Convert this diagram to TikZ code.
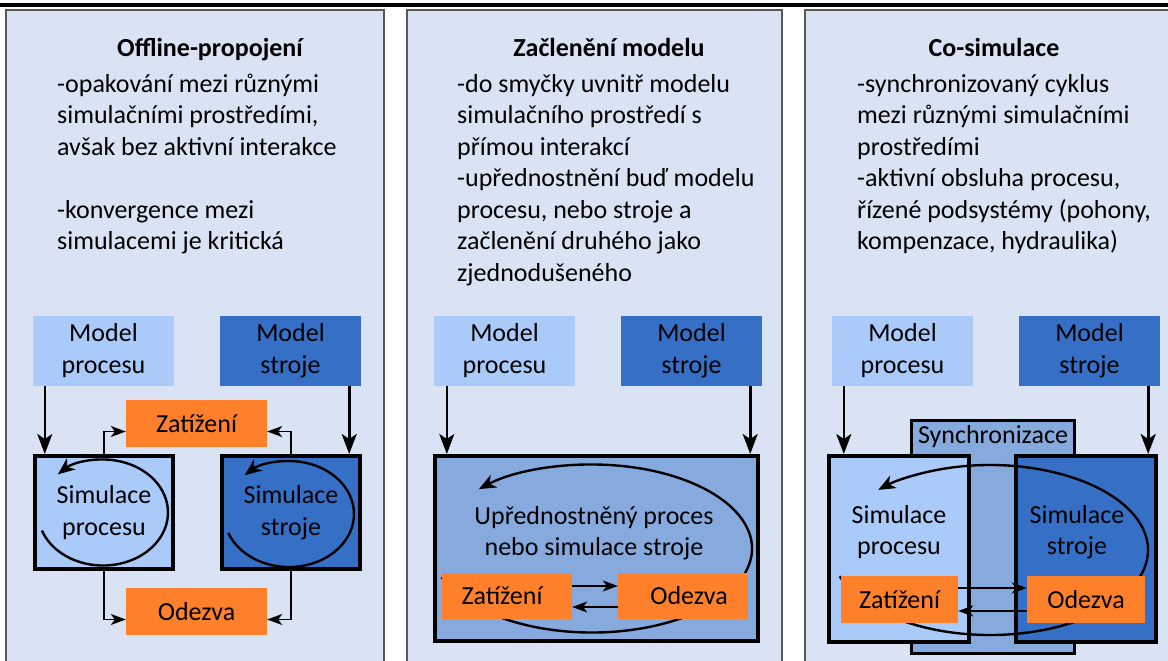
\documentclass[tikz,border=0pt]{standalone}
\usepackage{fontspec}
\setmainfont{Carlito}
\usetikzlibrary{arrows,arrows.meta,positioning}

\definecolor{panelbg}{RGB}{218,227,243}
\definecolor{procblue}{RGB}{170,203,250}
\definecolor{machblue}{RGB}{54,112,198}
\definecolor{midblue}{RGB}{134,170,222}
\definecolor{loadorange}{RGB}{254,128,42}

\begin{document}
\begin{tikzpicture}[x=1pt,y=-1pt,>={Stealth[length=20pt,width=15pt,inset=5pt]},
  font=\fontsize{26}{31.5}\selectfont,
  panel edge/.style={draw=black!65,line width=1.2pt},
  title node/.style={font=\fontsize{26}{31.5}\selectfont\bfseries,anchor=base,inner sep=0pt},
  body node/.style={anchor=north west,align=left,inner sep=0pt},
  text node/.style={align=center,inner sep=0pt},
  model proc/.style={fill=procblue,minimum width=141pt,minimum height=70pt,align=center,inner sep=0pt},
  model mach/.style={model proc,fill=machblue},
  sim proc/.style={draw,line width=4pt,fill=procblue,align=center,inner sep=0pt},
  sim mach/.style={sim proc,fill=machblue},
  load node/.style={fill=loadorange,minimum height=47pt,inner sep=0pt},
  feed arrow/.style={->,line width=2.6pt},
  link arrow/.style={-{Stealth[length=15pt,width=11pt,inset=4pt]},line width=1.8pt},
  cycle arrow/.style={-{Stealth[length=17pt,width=14pt,inset=5pt]},line width=2.4pt}]
  \useasboundingbox (0,0) rectangle (1168,661);

  % top rule and the three panels
  \fill (0,3) rectangle (1168,7.5);
  \foreach \l/\r in {6/384,407/782,805/1180}{
    \fill[panelbg] (\l,10) rectangle (\r,661);
    \draw[panel edge] (\l,661) |- (\r,10) -- (\r,661);
  }

  % panel 1: offline coupling
  \node[title node] (t1) at (210,57) {Offline-propojení};
  \node[body node] (b1) at (57,70) {\strut-opakování mezi různými\\simulačními prostředími,\\avšak bez aktivní interakce\\[31.5pt]-konvergence mezi\\simulacemi je kritická};

  \node[model proc] (mp1) at (103.5,350.5) {Model\\procesu};
  \node[model mach] (mm1) at (290.5,350.5) {Model\\stroje};
  \node[load node,minimum width=141pt] (z1) at (196.5,423.5) {Zatížení};
  \node[sim proc,minimum width=138pt,minimum height=113pt] (sp1) at (104,512.5) {Simulace\\procesu};
  \node[sim mach,minimum width=138pt,minimum height=113pt] (sm1) at (291,512.5) {Simulace\\stroje};
  \node[load node,minimum width=141pt] (o1) at (196.5,611.5) {Odezva};

  \coordinate (mp1 out) at ([xshift=12pt]mp1.south west);
  \coordinate (mm1 out) at ([xshift=-12pt]mm1.south east);
  \draw[feed arrow] (mp1 out) -- (mp1 out |- sp1.north);
  \draw[feed arrow] (mm1 out) -- (mm1 out |- sm1.north);
  \draw[link arrow] (sp1.north) |- ([yshift=-8pt]z1.west);
  \draw[link arrow] (sm1.north) |- ([yshift=-8pt]z1.east);
  \draw[link arrow] (sp1.south) |- ([yshift=-8pt]o1.west);
  \draw[link arrow] (sm1.south) |- ([yshift=-8pt]o1.east);
  \draw[cycle arrow] ([xshift=-1pt]sp1.center) ++(160:65 and 53)
    arc[start angle=160,end angle=-134,x radius=65,y radius=53];
  \draw[cycle arrow] ([xshift=-2pt,yshift=-1.5pt]sm1.center) ++(159:65 and 53)
    arc[start angle=159,end angle=-133,x radius=65,y radius=53];

  % panel 2: model embedding
  \node[title node] (t2) at (609,57) {Začlenění modelu};
  \node[body node] (b2) at (457,70) {\strut-do smyčky uvnitř modelu\\simulačního prostředí s\\přímou interakcí\\-upřednostnění buď modelu\\procesu, nebo stroje a\\začlenění druhého jako\\zjednodušeného};

  \node[model proc] (mp2) at (504.5,350.5) {Model\\procesu};
  \node[model mach] (mm2) at (691.5,350.5) {Model\\stroje};
  \node[sim proc,fill=midblue,minimum width=323pt,minimum height=185pt] (emb) at (596.5,548.5) {};
  \node[text node] (embtxt) at (594,533) {Upřednostněný proces\\nebo simulace stroje};

  \coordinate (mp2 out) at ([xshift=13pt]mp2.south west);
  \coordinate (mm2 out) at ([xshift=-12pt]mm2.south east);
  \draw[feed arrow] (mp2 out) -- (mp2 out |- emb.north);
  \draw[feed arrow] (mm2 out) -- (mm2 out |- emb.north);
  \draw[cycle arrow] ([xshift=-4.5pt]emb.center) ++(160:160 and 84)
    arc[start angle=160,end angle=-135,x radius=160,y radius=84];

  \node[load node,minimum width=130pt,minimum height=46pt] (z2) at (507,596) {\hspace*{-10pt}Zatížení};
  \node[load node,minimum width=130pt,minimum height=46pt] (o2) at (683,596) {\hspace*{12pt}Odezva};
  \draw[link arrow] ([yshift=10pt]z2.east) -- ([yshift=10pt]o2.west);
  \draw[link arrow] ([yshift=-11pt]o2.west) -- ([yshift=-11pt]z2.east);

  % panel 3: co-simulation
  \node[title node] (t3) at (994,57) {Co-simulace};
  \node[body node] (b3) at (857,70) {\strut-synchronizovaný cyklus\\mezi různými simulačními\\prostředími\\-aktivní obsluha procesu,\\řízené podsystémy (pohony,\\kompenzace, hydraulika)};

  \node[model proc] (mp3) at (902.5,350.5) {Model\\procesu};
  \node[model mach] (mm3) at (1089.5,350.5) {Model\\stroje};
  \node[draw,line width=3pt,fill=midblue,minimum width=163pt,minimum height=233pt] (sync) at (993,537) {};
  \node[text node] (synctxt) at (993,437) {Synchronizace};
  \node[sim proc,minimum width=140pt,minimum height=186pt] (sp3) at (899,549) {};
  \node[sim mach,minimum width=140pt,minimum height=186pt] (sm3) at (1086,549) {};
  \node[text node] (sp3txt) at (899,532) {Simulace\\procesu};
  \node[text node] (sm3txt) at (1077,532) {Simulace\\stroje};

  \coordinate (mp3 out) at ([xshift=12pt]mp3.south west);
  \coordinate (mm3 out) at ([xshift=-12pt]mm3.south east);
  \draw[feed arrow] (mp3 out) -- (mp3 out |- sp3.north);
  \draw[feed arrow] (mm3 out) -- (mm3 out |- sm3.north);
  \draw[cycle arrow] ([shift={(-3,13)}]sync.center) ++(162:158 and 85)
    arc[start angle=162,end angle=-135,x radius=158,y radius=85];

  \node[load node,minimum width=117pt] (z3) at (899.5,599.5) {Zatížení};
  \node[load node,minimum width=118pt] (o3) at (1086,599.5) {Odezva};
  \draw[link arrow] ([yshift=11.5pt]z3.east) -- ([yshift=11.5pt]o3.west);
  \draw[link arrow] ([yshift=-11.5pt]o3.west) -- ([yshift=-11.5pt]z3.east);
\end{tikzpicture}
\end{document}
